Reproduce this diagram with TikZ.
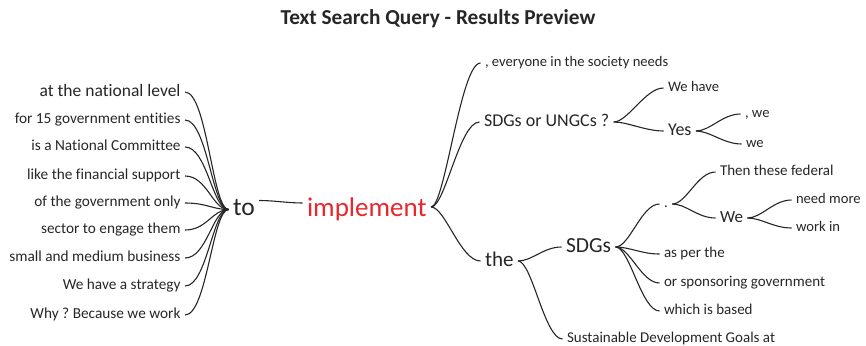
\documentclass[tikz,border=0pt]{standalone}
\usepackage{fontspec}
\setmainfont{Carlito}[Ligatures={NoCommon}]
\frenchspacing
\usetikzlibrary{calc}
\definecolor{txt}{HTML}{262626}
\definecolor{hot}{HTML}{E8262C}
\begin{document}
\begin{tikzpicture}[x=1pt,y=-1pt,
  w/.style={inner sep=0pt, outer xsep=4.5pt, text=txt},
  sz/.style={font=\fontsize{#1}{#1}\selectfont, text height={0.7*#1pt}, text depth={0.2*#1pt}},
  lt/.style={w, sz=15.3, anchor=east},
  rt/.style={w, anchor=west},
  conn/.style={draw=txt, line width=1.1pt},
]
\useasboundingbox (0,0) rectangle (866,345);
\begin{scope}[yshift=-2pt]
% title
\node[text=txt, inner sep=0pt, font=\fontsize{21.3}{21.3}\selectfont\bfseries] (title) at (438,17) {Text Search Query - Results Preview};

% left branch
\node[w, sz=25.5, anchor=west] (to) at (228.5,207.5) {to};
\node[w, sz=17.5, anchor=east] (l1) at (185,90) {at the national level};
\node[lt] (l2) at (185,118) {for 15 government entities};
\node[lt] (l3) at (185,145) {is a National Committee};
\node[lt] (l4) at (185,174) {like the financial support};
\node[lt] (l5) at (185,201) {of the government only};
\node[lt] (l6) at (185,228) {sector to engage them};
\node[lt] (l7) at (185,256) {small and medium business};
\node[lt] (l8) at (185,284) {We have a strategy};
\node[lt] (l9) at (185,313) {Why ? Because we work};

\foreach \c in {l1,l2,l3,l4,l5,l6,l7,l8,l9}
  \draw[conn] (to.west) .. controls +(-16,0) and +(22,0) .. (\c.east);

% centre
\node[rt, sz=27, text=hot] (implement) at (302.5,208) {implement};
\coordinate (toR) at ($(to.east)+(0,-9)$);
\coordinate (imL) at ($(implement.west)+(0,-7)$);
\coordinate (imR) at ($(implement.east)+(0,-3)$);
\draw[conn] (toR) .. controls +(15,0) and +(-15,0) .. (imL);

% right branch
\node[rt, sz=14.6] (everyone) at (480.5,61) {, everyone in the society needs};
\node[rt, sz=18] (sdgsor) at (479.5,120) {SDGs or UNGCs ?};
\node[rt, sz=21] (the) at (480.5,259) {the};
\foreach \c in {everyone,sdgsor,the}
  \draw[conn] (imR) .. controls +(14,0) and +(-20,0) .. (\c.west);

\node[rt, sz=14.6] (wehave) at (663.5,86) {We have};
\node[rt, sz=18] (yes) at (663.5,129) {Yes};
\foreach \c in {wehave,yes}
  \draw[conn] (sdgsor.east) .. controls +(14,0) and +(-18,0) .. (\c.west);

\node[rt, sz=14.6] (comwe) at (740.5,112) {, we};
\node[rt, sz=14.6] (we1) at (741.5,142) {we};
\foreach \c in {comwe,we1}
  \draw[conn] (yes.east) .. controls +(14,0) and +(-18,0) .. (\c.west);

\node[rt, sz=21.5] (sdgs) at (561.5,245) {SDGs};
\node[rt, sz=15] (sust) at (562.5,337) {Sustainable Development Goals at};
\foreach \c in {sdgs,sust}
  \draw[conn] (the.east) .. controls +(14,0) and +(-18,0) .. (\c.west);

\node[rt, sz=15] (dot) at (659.5,202) {.};
\node[rt, sz=15] (asper) at (659.5,252) {as per the};
\node[rt, sz=15] (orspons) at (659.5,281) {or sponsoring government};
\node[rt, sz=15] (which) at (659.5,309) {which is based};
\foreach \c in {dot,asper,orspons,which}
  \draw[conn] (sdgs.east) .. controls +(14,0) and +(-18,0) .. (\c.west);

\node[rt, sz=15] (then) at (715.5,170) {Then these federal};
\node[rt, sz=17] (we2) at (715.5,216) {We};
\foreach \c in {then,we2}
  \draw[conn] (dot.east) .. controls +(14,0) and +(-18,0) .. (\c.west);

\node[rt, sz=14.6] (needmore) at (791.5,198) {need more};
\node[rt, sz=14.6] (workin) at (791.5,226) {work in};
\foreach \c in {needmore,workin}
  \draw[conn] (we2.east) .. controls +(14,0) and +(-18,0) .. (\c.west);
\end{scope}
\end{tikzpicture}
\end{document}
